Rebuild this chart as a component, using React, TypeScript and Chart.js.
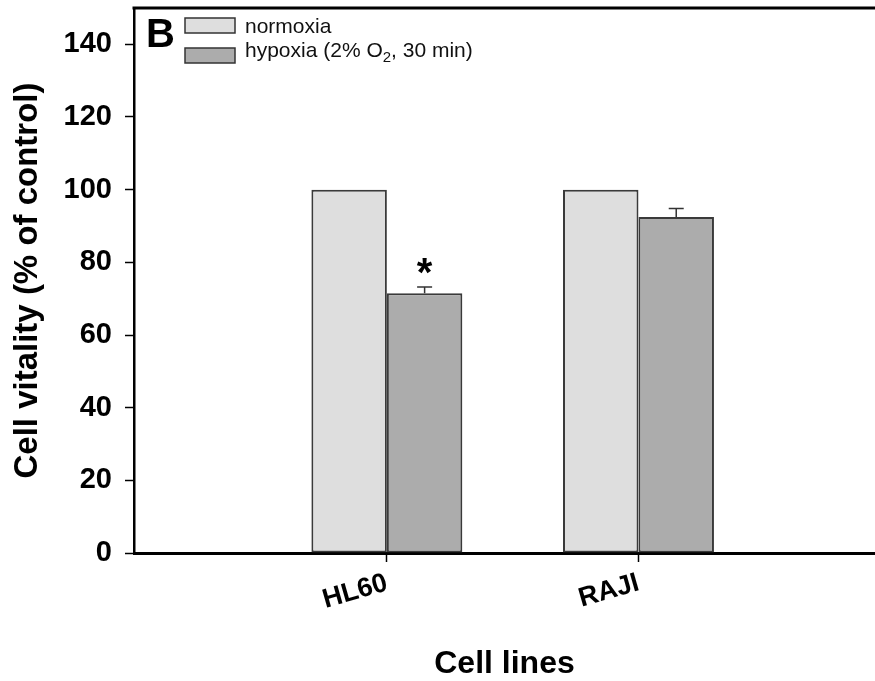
import React, { useEffect, useRef } from 'react';
import { Chart, registerables } from 'chart.js';

Chart.register(...registerables);

// ---- data ----
const categories = ['HL60', 'RAJI'];
const categoryPositions = [1, 2];
const normoxia = [100, 100];
const hypoxia = [71.5, 92.5];
const hypoxiaErr = [1.7, 2.3];
const significance = ['*', ''];
const yTicks = [0, 20, 40, 60, 80, 100, 120, 140];
const seriesLabels = ['normoxia', 'hypoxia (2% O{2}, 30 min)'];
const panelLetter = 'B';

const FONT = "'Liberation Sans', Arial, sans-serif";
const stripSub = (s: string) => s.replace(/[{}]/g, '');

const decorPlugin = {
  id: 'decor',
  afterDatasetsDraw(chart: any) {
    const { ctx, chartArea: a, scales } = chart;
    const y = scales.y;
    ctx.save();

    // top frame line
    ctx.strokeStyle = '#000';
    ctx.lineWidth = 3;
    ctx.beginPath();
    ctx.moveTo(a.left - 1.5, a.top);
    ctx.lineTo(a.right, a.top);
    ctx.stroke();

    // error bars (upper only) + significance marks
    const meta = chart.getDatasetMeta(1);
    meta.data.forEach((bar: any, i: number) => {
      const cx = bar.x;
      const base = y.getPixelForValue(hypoxia[i]);
      const top = y.getPixelForValue(hypoxia[i] + hypoxiaErr[i]);
      ctx.strokeStyle = '#333';
      ctx.lineWidth = 1.5;
      ctx.beginPath();
      ctx.moveTo(cx, base);
      ctx.lineTo(cx, top);
      ctx.moveTo(cx - 7.5, top);
      ctx.lineTo(cx + 7.5, top);
      ctx.stroke();
      if (significance[i]) {
        ctx.fillStyle = '#000';
        ctx.font = `bold 40px ${FONT}`;
        ctx.textAlign = 'center';
        ctx.textBaseline = 'alphabetic';
        ctx.fillText(significance[i], cx, top - 1);
      }
    });

    // panel letter
    ctx.fillStyle = '#000';
    ctx.font = `bold 40px ${FONT}`;
    ctx.textAlign = 'left';
    ctx.textBaseline = 'alphabetic';
    ctx.fillText(panelLetter, a.left + 12, a.top + 39);

    // legend
    const boxTops = [a.top + 10, a.top + 40];
    const baselines = [a.top + 25, a.top + 49];
    chart.data.datasets.forEach((ds: any, i: number) => {
      const bx = a.left + 51;
      ctx.fillStyle = ds.backgroundColor;
      ctx.fillRect(bx, boxTops[i], 50, 15);
      ctx.strokeStyle = '#333';
      ctx.lineWidth = 1.5;
      ctx.strokeRect(bx, boxTops[i], 50, 15);
      let tx = a.left + 111;
      const parts = seriesLabels[i].split(/(\{[^}]*\})/).filter((p) => p.length);
      ctx.fillStyle = '#111';
      ctx.textAlign = 'left';
      parts.forEach((p) => {
        const sub = p.startsWith('{');
        const t = sub ? p.slice(1, -1) : p;
        ctx.font = sub ? `15px ${FONT}` : `21px ${FONT}`;
        ctx.fillText(t, tx, baselines[i] + (sub ? 5 : 0));
        tx += ctx.measureText(t).width;
      });
    });

    ctx.restore();
  },
};

export default function App() {
  const ref = useRef<HTMLCanvasElement>(null);

  useEffect(() => {
    if (!ref.current) return;
    const chart = new Chart(ref.current, {
      type: 'bar',
      data: {
        datasets: [
          {
            label: stripSub(seriesLabels[0]),
            data: categoryPositions.map((x, i) => ({ x, y: normoxia[i] })),
            backgroundColor: '#dedede',
            borderColor: '#3a3a3a',
            borderWidth: 2,
            borderSkipped: false,
            categoryPercentage: 0.6,
            barPercentage: 1,
          },
          {
            label: stripSub(seriesLabels[1]),
            data: categoryPositions.map((x, i) => ({ x, y: hypoxia[i] })),
            backgroundColor: '#acacac',
            borderColor: '#3a3a3a',
            borderWidth: 2,
            borderSkipped: false,
            categoryPercentage: 0.6,
            barPercentage: 1,
          },
        ],
      } as any,
      options: {
        responsive: false,
        animation: false,
        layout: { padding: { top: 8, right: 0, bottom: 0, left: 0 } },
        plugins: {
          legend: { display: false },
          tooltip: { enabled: false },
        },
        scales: {
          x: {
            type: 'linear',
            offset: false,
            min: -0.005,
            max: 2.94,
            afterBuildTicks: (scale: any) => {
              scale.ticks = categoryPositions.map((v) => ({ value: v }));
            },
            afterFit: (scale: any) => {
              scale.height = 128;
              scale.paddingLeft = 0;
              scale.paddingRight = 0;
            },
            grid: {
              offset: false,
              drawOnChartArea: false,
              drawTicks: true,
              tickLength: 9,
              tickColor: '#000',
              tickWidth: 1.5,
            },
            border: { display: true, color: '#000', width: 3 },
            ticks: {
              autoSkip: false,
              minRotation: 16,
              maxRotation: 16,
              padding: 5,
              color: '#000',
              font: { family: FONT, size: 27, weight: 'bold' },
              callback: (v: any) => {
                const idx = categoryPositions.indexOf(Number(v));
                return idx >= 0 ? categories[idx] : '';
              },
            },
            title: {
              display: true,
              text: 'Cell lines',
              color: '#000',
              font: { family: FONT, size: 32, weight: 'bold', lineHeight: 1.05 },
              padding: { top: 0, bottom: 0 },
            },
          },
          y: {
            type: 'linear',
            min: 0,
            max: 150,
            afterBuildTicks: (scale: any) => {
              scale.ticks = yTicks.map((v) => ({ value: v }));
            },
            afterFit: (scale: any) => {
              scale.width = 134;
              scale.paddingTop = 0;
              scale.paddingBottom = 0;
            },
            grid: {
              drawOnChartArea: false,
              drawTicks: true,
              tickLength: 9,
              tickColor: '#000',
              tickWidth: 1.5,
            },
            border: { display: true, color: '#000', width: 2.5 },
            ticks: {
              padding: 13,
              color: '#000',
              font: { family: FONT, size: 29, weight: 'bold' },
            },
            title: {
              display: true,
              text: 'Cell vitality (% of control)',
              color: '#000',
              font: { family: FONT, size: 33, weight: 'bold' },
              padding: { top: 8, bottom: 0 },
            },
          },
        },
      } as any,
      plugins: [decorPlugin],
    });
    return () => chart.destroy();
  }, []);

  return (
    <div style={{ position: 'fixed', left: 0, top: 0, width: 875, height: 681, background: '#fff' }}>
      <canvas ref={ref} width={875} height={681} />
    </div>
  );
}
